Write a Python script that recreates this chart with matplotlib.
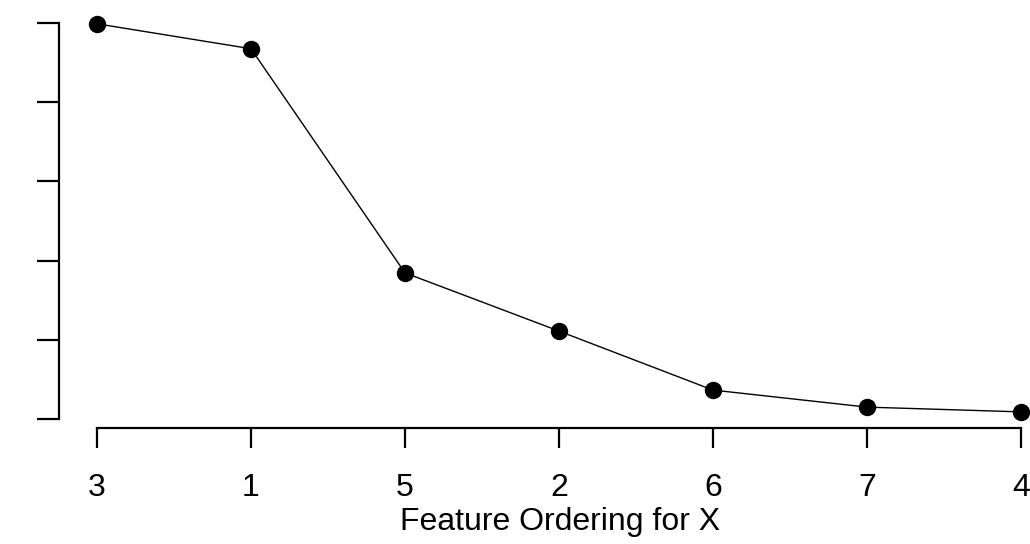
import matplotlib
matplotlib.use("Agg")
import matplotlib.pyplot as plt

# Feature ordering along the x axis and the associated values
feature_labels = ["3", "1", "5", "2", "6", "7", "4"]
values = [0.998, 0.935, 0.369, 0.222, 0.073, 0.030, 0.018]
y_ticks = [0.0, 0.2, 0.4, 0.6, 0.8, 1.0]

plt.rcParams["font.family"] = ["Liberation Sans", "DejaVu Sans"]

W, H = 1030, 544
fig = plt.figure(figsize=(W / 100, H / 100), dpi=100)
left_px, bottom_px = 59, 428
ax = fig.add_axes([left_px / W, (H - bottom_px) / H, (W - left_px) / W, bottom_px / H])

positions = list(range(1, len(feature_labels) + 1))
ax.plot(positions, values, color="black", linewidth=1.0, marker="o",
        markersize=11.5, markerfacecolor="black", markeredgecolor="black",
        clip_on=False, zorder=3)

ax.set_xlim(1 - 38 / 154, 7 + 9 / 154)
ax.set_ylim(-9 / 396, 1 + 23 / 396)

for s in ("top", "right"):
    ax.spines[s].set_visible(False)
ax.spines["left"].set_bounds(0, 1)
ax.spines["bottom"].set_bounds(1, 7)
for s in ("left", "bottom"):
    ax.spines[s].set_linewidth(1.6)

ax.set_xticks(positions)
ax.set_xticklabels(feature_labels, fontsize=23)
ax.set_yticks(y_ticks)
ax.set_yticklabels([])
ax.tick_params(axis="x", length=14.5, width=1.6, pad=18)
ax.tick_params(axis="y", length=16, width=1.6)
ax.set_xlabel("Feature Ordering for X", fontsize=23)
ax.xaxis.set_label_coords((560 - left_px) / (W - left_px), (bottom_px - 507) / bottom_px)
ax.patch.set_visible(False)

fig.savefig("out.png", dpi=100)
